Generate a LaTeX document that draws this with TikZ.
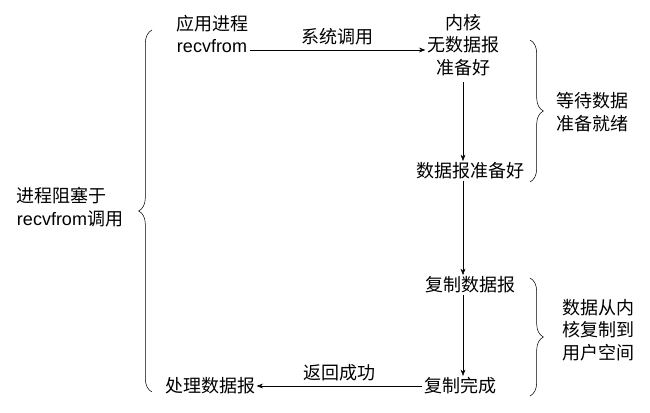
\documentclass[tikz,border=0pt]{standalone}
\usepackage{fontspec}
\setmainfont{Liberation Sans}
\newfontfamily\cjk{Noto Sans CJK SC}
\usetikzlibrary{arrows.meta, decorations.pathreplacing}

\begin{document}
\begin{tikzpicture}[x=0.75pt, y=-0.75pt, >=Stealth, font=\cjk\fontsize{13.5}{17}\selectfont,
	lbl/.style={align=center, inner sep=1pt},
	brace/.style={decorate, decoration={brace, amplitude=10pt}}]
	\useasboundingbox (0,0) rectangle (650,413);
	
	%========================
	% application side
	%========================
	\node[lbl] (app) at (212,34) {应用进程\\{\rmfamily recvfrom}};
	\node[lbl] (proc) at (210,386) {处理数据报};
	\node[lbl, align=left] (block) at (70,207) {进程阻塞于\\{\rmfamily recvfrom}调用};
	
	%========================
	% kernel side
	%========================
	\node[lbl] (kern) at (463,45) {内核\\无数据报\\准备好};
	\node[lbl] (ready) at (470,171) {数据报准备好};
	\node[lbl] (copy) at (470,285) {复制数据报};
	\node[lbl] (done) at (460,386) {复制完成};
	
	% arrows
	\draw[->] (app.east |- 0,50) -- (kern.west |- 0,50) node[midway, above] {系统调用};
	\draw[->] (463,82) -- (ready.north -| 463,0);
	\draw[->] (ready.south -| 463,0) -- (copy.north -| 463,0);
	\draw[->] (copy.south -| 463,0) -- (done.north -| 463,0);
	\draw[->] (done) -- (proc) node[midway, above] {返回成功};
	
	% braces
	\draw[brace] (530,40) -- (530,182);
	\node[lbl, align=left] (wait) at (592,112) {等待数据\\准备就绪};
	\draw[brace] (530,278) -- (530,396);
	\node[lbl, align=left] (move) at (598,330) {数据从内\\核复制到\\用户空间};
	\draw[brace] (152,392) -- (152,30);
\end{tikzpicture}
\end{document}
